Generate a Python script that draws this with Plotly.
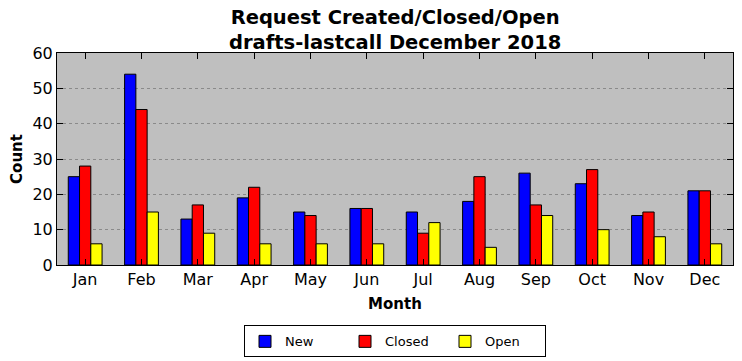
import plotly.graph_objects as go

months = ["Jan", "Feb", "Mar", "Apr", "May", "Jun", "Jul", "Aug", "Sep", "Oct", "Nov", "Dec"]
new_vals = [25, 54, 13, 19, 15, 16, 15, 18, 26, 23, 14, 21]
closed_vals = [28, 44, 17, 22, 14, 16, 9, 25, 17, 27, 15, 21]
open_vals = [6, 15, 9, 6, 6, 6, 12, 5, 14, 10, 8, 6]
y_ticks = [0, 10, 20, 30, 40, 50, 60]

fig = go.Figure()
for name, vals, color in [("New", new_vals, "#0000ff"), ("Closed", closed_vals, "#ff0000"), ("Open", open_vals, "#ffff00")]:
    fig.add_trace(go.Bar(x=months, y=vals, name=name, marker=dict(color=color, line=dict(color="black", width=1))))

font_family = "DejaVu Sans"
fig.update_layout(
    width=742, height=361,
    margin=dict(l=57, r=9, t=53, b=96, autoexpand=False),
    paper_bgcolor="white",
    plot_bgcolor="#bfbfbf",
    barmode="group",
    bargap=0.4,
    bargroupgap=0,
    font=dict(family=font_family, color="black"),
    legend=dict(
        orientation="h", x=0.5, xanchor="center", y=-0.285, yanchor="top",
        bordercolor="black", borderwidth=1, font=dict(size=13),
        bgcolor="white", traceorder="normal",
        entrywidth=55, entrywidthmode="pixels",
    ),
    annotations=[dict(
        text="<b>Request Created/Closed/Open<br>drafts-lastcall December 2018</b>",
        xref="paper", yref="paper", x=0.5, y=1.1085,
        xanchor="center", yanchor="middle", showarrow=False,
        font=dict(size=19.5, family=font_family),
    )],
)
fig.update_xaxes(
    range=[-0.5, 11.5], automargin=False,
    ticks="inside", ticklen=6, tickcolor="black", mirror="ticks",
    showline=True, linecolor="black", linewidth=1,
    tickfont=dict(size=16), showgrid=False,
    title=dict(text="<b>Month</b>", font=dict(size=15), standoff=10),
)
fig.update_yaxes(
    range=[0, 60], tickvals=y_ticks, automargin=False,
    ticks="inside", ticklen=6, tickcolor="black", mirror="ticks",
    showline=True, linecolor="black", linewidth=1,
    tickfont=dict(size=16),
    showgrid=True, gridcolor="#8a8a8a", griddash="dot", gridwidth=1,
    zeroline=False,
    title=dict(text="<b>Count</b>", font=dict(size=15), standoff=6),
)
fig.write_html("out.html", config={"displayModeBar": False},
               post_script="document.body.style.margin='0';")
